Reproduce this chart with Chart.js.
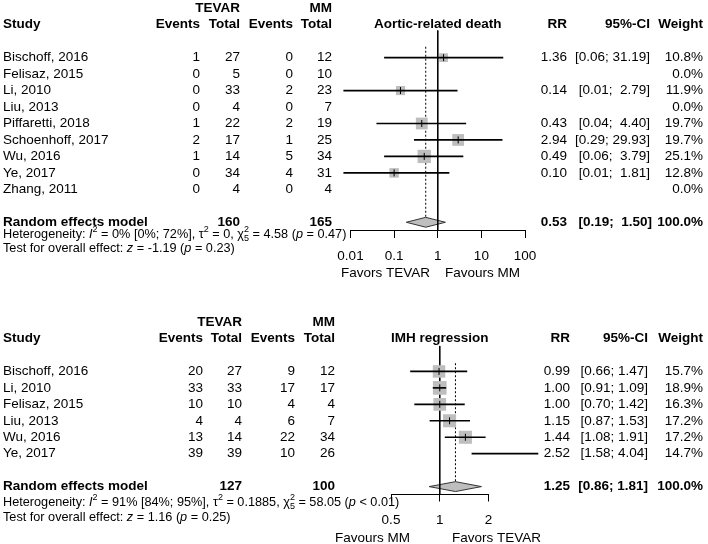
<!DOCTYPE html>
<html>
<head>
<meta charset="utf-8">
<title>Forest plots: aortic-related death and IMH regression</title>
<script src="https://cdn.jsdelivr.net/npm/chart.js@4.4.1/dist/chart.umd.min.js"></script>
<style>
  html, body { margin: 0; padding: 0; background: #fff; }
  canvas { position: absolute; left: 0; }
  #forest-death { top: 0; }
  #forest-imh { top: 290px; }
</style>
</head>
<body>
<canvas id="forest-death" width="708" height="290"></canvas>
<canvas id="forest-imh" width="708" height="254"></canvas>
<script>
// ---- panel 1: aortic-related death ----
const deathStudies = ["Bischoff, 2016", "Felisaz, 2015", "Li, 2010", "Liu, 2013", "Piffaretti, 2018",
    "Schoenhoff, 2017", "Wu, 2016", "Ye, 2017", "Zhang, 2011"];
const deathTevarEvents = [1, 0, 0, 0, 1, 2, 1, 0, 0];
const deathTevarTotal = [27, 5, 33, 4, 22, 17, 14, 34, 4];
const deathMmEvents = [0, 0, 2, 0, 2, 1, 5, 4, 0];
const deathMmTotal = [12, 10, 23, 7, 19, 25, 34, 31, 4];
const deathRR = [1.36, null, 0.14, null, 0.43, 2.94, 0.49, 0.10, null];
const deathLower = [0.06, null, 0.007, null, 0.04, 0.29, 0.06, 0.007, null];
const deathUpper = [31.19, null, 2.79, null, 4.40, 29.93, 3.79, 1.81, null];
const deathWeight = [10.8, 0, 11.9, 0, 19.7, 19.7, 25.1, 12.8, 0];
const deathPooled = [0.53, 0.19, 1.50]; // RR, lower, upper
const deathTotals = [160, 165];
const deathTicks = [0.01, 0.1, 1, 10, 100];
const deathTickLabels = ["0.01", "0.1", "1", "10", "100"];
const deathHet = [["Heterogeneity: "], ["I", "i"], ["2", "sup"], [" = 0% [0%; 72%], \u03c4"], ["2", "sup"],
    [" = 0, \u03c7"], ["2", "sup", "5"], [" = 4.58 ("], ["p", "i"], [" = 0.47)"]];
const deathTest = [["Test for overall effect: "], ["z", "i"], [" = -1.19 ("], ["p", "i"], [" = 0.23)"]];

// ---- panel 2: IMH regression ----
const imhStudies = ["Bischoff, 2016", "Li, 2010", "Felisaz, 2015", "Liu, 2013", "Wu, 2016", "Ye, 2017"];
const imhTevarEvents = [20, 33, 10, 4, 13, 39];
const imhTevarTotal = [27, 33, 10, 4, 14, 39];
const imhMmEvents = [9, 17, 4, 6, 22, 10];
const imhMmTotal = [12, 17, 4, 7, 34, 26];
const imhRR = [0.99, 1.00, 1.00, 1.15, 1.44, 2.52];
const imhLower = [0.66, 0.91, 0.70, 0.87, 1.08, 1.58];
const imhUpper = [1.47, 1.09, 1.42, 1.53, 1.91, 4.04];
const imhWeight = [15.7, 18.9, 16.3, 17.2, 17.2, 14.7];
const imhPooled = [1.25, 0.86, 1.81];
const imhTotals = [127, 100];
const imhTicks = [0.5, 1, 2];
const imhTickLabels = ["0.5", "1", "2"];
const imhHet = [["Heterogeneity: "], ["I", "i"], ["2", "sup"], [" = 91% [84%; 95%], \u03c4"], ["2", "sup"],
    [" = 0.1885, \u03c7"], ["2", "sup", "5"], [" = 58.05 ("], ["p", "i"], [" < 0.01)"]];
const imhTest = [["Test for overall effect: "], ["z", "i"], [" = 1.16 ("], ["p", "i"], [" = 0.25)"]];

const FONT = '"Liberation Sans", Arial, Helvetica, sans-serif';
const FS = 13.5;
const FS_SMALL = 12.7;
const SQUARE = "#bebebe";

// draws a line of text with italic bits and stacked super/subscripts
function richText(ctx, parts, x0, yc) {
    let cx = x0;
    ctx.textAlign = "left";
    for (const [t, style, sub] of parts) {
        if (style === "sup") {
            ctx.font = "9px " + FONT;
            ctx.fillText(t, cx, yc - 5);
            let w = ctx.measureText(t).width;
            if (sub) {
                ctx.fillText(sub, cx, yc + 4);
                w = Math.max(w, ctx.measureText(sub).width);
            }
            cx += w;
        } else {
            ctx.font = (style === "i" ? "italic " : "") + FS_SMALL + "px " + FONT;
            ctx.fillText(t, cx, yc);
            cx += ctx.measureText(t).width;
        }
    }
}

function forestChart(canvasId, p) {
    const L = p.layout;
    const C = L.cols;
    const sumRow = p.studies.length + 1;
    const idx = p.studies.map((_, i) => i).filter(i => p.weight[i] > 0);
    const wMax = Math.max(...p.weight);
    const wSum = p.weight.reduce((a, b) => a + b, 0);
    const ciWidth = Math.max(...idx.map(i => p.upper[i].toFixed(2).length), p.pooled[2].toFixed(2).length);
    const ci = (lo, hi) => "[" + lo.toFixed(2) + "; " + hi.toFixed(2).padStart(ciWidth, " ") + "]";

    const diamond = {
        id: "diamond",
        beforeDatasetsDraw(chart) {
            const { ctx, scales: { x, y } } = chart;
            const yc = y.getPixelForValue(sumRow);
            const h = y.getPixelForValue(sumRow + 0.3) - yc;
            ctx.save();
            ctx.beginPath();
            ctx.moveTo(x.getPixelForValue(p.pooled[1]), yc);
            ctx.lineTo(x.getPixelForValue(p.pooled[0]), yc - h);
            ctx.lineTo(x.getPixelForValue(p.pooled[2]), yc);
            ctx.lineTo(x.getPixelForValue(p.pooled[0]), yc + h);
            ctx.closePath();
            ctx.fillStyle = SQUARE;
            ctx.fill();
            ctx.strokeStyle = "#333";
            ctx.lineWidth = 1;
            ctx.stroke();
            ctx.restore();
        }
    };

    const table = {
        id: "table",
        afterDraw(chart) {
            const { ctx, chartArea, scales: { x, y } } = chart;
            const put = (s, px, row, align, bold, py) => {
                ctx.font = (bold ? "bold " : "") + FS + "px " + FONT;
                ctx.textAlign = align;
                ctx.fillText(String(s), px, row === null ? py : y.getPixelForValue(row));
            };
            ctx.save();
            ctx.fillStyle = "#000";
            ctx.textBaseline = "middle";
            // headers
            put("TEVAR", C.tTot, -3, "right", true);
            put("MM", C.mTot, -3, "right", true);
            put("Study", C.study, -2, "left", true);
            put("Events", C.tEv, -2, "right", true);
            put("Total", C.tTot, -2, "right", true);
            put("Events", C.mEv, -2, "right", true);
            put("Total", C.mTot, -2, "right", true);
            put(p.title, x.getPixelForValue(1), -2, "center", true);
            put("RR", C.rr, -2, "right", true);
            put("95%-CI", C.ci, -2, "right", true);
            put("Weight", C.w, -2, "right", true);
            // studies
            p.studies.forEach((s, i) => {
                put(s, C.study, i, "left");
                put(p.tevarEvents[i], C.tEv, i, "right");
                put(p.tevarTotal[i], C.tTot, i, "right");
                put(p.mmEvents[i], C.mEv, i, "right");
                put(p.mmTotal[i], C.mTot, i, "right");
                if (p.weight[i] > 0) {
                    put(p.rr[i].toFixed(2), C.rr, i, "right");
                    put(ci(p.lower[i], p.upper[i]), C.ci, i, "right");
                }
                put(p.weight[i].toFixed(1) + "%", C.w, i, "right");
            });
            // pooled row
            put("Random effects model", C.study, sumRow, "left", true);
            put(p.totals[0], C.tTot, sumRow, "right", true);
            put(p.totals[1], C.mTot, sumRow, "right", true);
            put(p.pooled[0].toFixed(2), C.rr, sumRow, "right", true);
            put(ci(p.pooled[1], p.pooled[2]), C.ciSum, sumRow, "right", true);
            put(wSum.toFixed(1) + "%", C.w, sumRow, "right", true);
            const ySum = y.getPixelForValue(sumRow);
            richText(ctx, p.het, C.study, ySum + L.hetDy);
            richText(ctx, p.test, C.study, ySum + L.testDy);
            // favours labels under the axis
            put(p.favours[0], L.favL, null, "right", false, chartArea.bottom + L.favDy);
            put(p.favours[1], L.favR, null, "left", false, chartArea.bottom + L.favDy);
            ctx.restore();
        }
    };

    return new Chart(document.getElementById(canvasId), {
        type: "scatter",
        data: {
            datasets: [
                {
                    label: "no effect",
                    data: [{ x: 1, y: L.refTop }, { x: 1, y: L.yMax }],
                    showLine: true,
                    borderColor: "#000",
                    borderWidth: 1,
                    pointRadius: 0,
                    order: 5,
                    clip: false,
                },
                {
                    label: "pooled estimate",
                    data: [{ x: p.pooled[0], y: L.dotTop }, { x: p.pooled[0], y: sumRow - 0.3 }],
                    showLine: true,
                    borderColor: "#000",
                    borderWidth: 1,
                    borderDash: [2, 2],
                    pointRadius: 0,
                    order: 5,
                    clip: false,
                },
                {
                    label: "weight",
                    data: idx.map(i => ({ x: p.rr[i], y: i, w: p.weight[i] })),
                    pointStyle: "rect",
                    pointRadius: (c) => L.squareMax * Math.sqrt(c.raw.w / wMax) / Math.SQRT2,
                    backgroundColor: SQUARE,
                    borderWidth: 0,
                    order: 4,
                    clip: false,
                },
                {
                    type: "bar",
                    indexAxis: "y",
                    label: "95%-CI",
                    data: idx.map(i => ({ y: i, x: [p.lower[i], p.upper[i]] })),
                    backgroundColor: "#000",
                    borderWidth: 0,
                    barThickness: 1,
                    order: 3,
                    clip: false,
                },
                {
                    label: "RR",
                    data: idx.map(i => ({ x: p.rr[i], y: i })),
                    pointStyle: "line",
                    pointRotation: 90,
                    pointRadius: 3.5,
                    borderColor: "#000",
                    borderWidth: 1,
                    order: 1,
                    clip: false,
                },
            ],
        },
        options: {
            responsive: false,
            animation: false,
            events: [],
            devicePixelRatio: 1,
            layout: { autoPadding: false, padding: { left: L.padL, right: L.padR, top: 0, bottom: 0 } },
            plugins: {
                legend: { display: false },
                tooltip: { enabled: false },
            },
            scales: {
                x: {
                    type: "logarithmic",
                    position: "bottom",
                    offset: false,
                    min: p.ticks[0],
                    max: p.ticks[p.ticks.length - 1],
                    afterBuildTicks: (s) => { s.ticks = p.ticks.map(v => ({ value: v })); },
                    afterFit: (s) => { s.height = L.axisH; },
                    ticks: {
                        autoSkip: false,
                        maxRotation: 0,
                        padding: 10.5,
                        color: "#000",
                        font: { family: FONT, size: FS },
                        callback: (v, i) => p.tickLabels[i],
                    },
                    grid: { offset: false, drawOnChartArea: false, drawTicks: true, tickLength: 7.5, color: "#000", lineWidth: 1 },
                    border: { display: true, color: "#000", width: 1 },
                },
                y: {
                    type: "linear",
                    reverse: true,
                    offset: false,
                    grid: { offset: false },
                    min: L.yMin,
                    max: L.yMax,
                    display: false,
                },
            },
        },
        plugins: [diamond, table],
    });
}

forestChart("forest-death", {
    title: "Aortic-related death",
    studies: deathStudies, tevarEvents: deathTevarEvents, tevarTotal: deathTevarTotal,
    mmEvents: deathMmEvents, mmTotal: deathMmTotal,
    rr: deathRR, lower: deathLower, upper: deathUpper, weight: deathWeight,
    pooled: deathPooled, totals: deathTotals, ticks: deathTicks, tickLabels: deathTickLabels,
    het: deathHet, test: deathTest, favours: ["Favors TEVAR", "Favours MM"],
    layout: {
        cols: { study: 3, tEv: 200, tTot: 240, mEv: 293, mTot: 332, rr: 567, ci: 650, ciSum: 652, w: 703 },
        padL: 350.5, padR: 183, yMin: -3.5, yMax: 10.5, axisH: 59.5,
        refTop: -1.65, dotTop: -0.66, squareMax: 13.3,
        hetDy: 12, testDy: 26, favDy: 43, favL: 430, favR: 445,
    },
});

forestChart("forest-imh", {
    title: "IMH regression",
    studies: imhStudies, tevarEvents: imhTevarEvents, tevarTotal: imhTevarTotal,
    mmEvents: imhMmEvents, mmTotal: imhMmTotal,
    rr: imhRR, lower: imhLower, upper: imhUpper, weight: imhWeight,
    pooled: imhPooled, totals: imhTotals, ticks: imhTicks, tickLabels: imhTickLabels,
    het: imhHet, test: imhTest, favours: ["Favours MM", "Favors TEVAR"],
    layout: {
        cols: { study: 3, tEv: 203, tTot: 242, mEv: 295, mTot: 335, rr: 570, ci: 648, ciSum: 648, w: 703 },
        padL: 391, padR: 219.5, yMin: -4.95, yMax: 7.45, axisH: 50,
        refTop: -1.55, dotTop: -0.5, squareMax: 13.7,
        hetDy: 16, testDy: 31, favDy: 44, favL: 410, favR: 452,
    },
});
</script>
</body>
</html>
